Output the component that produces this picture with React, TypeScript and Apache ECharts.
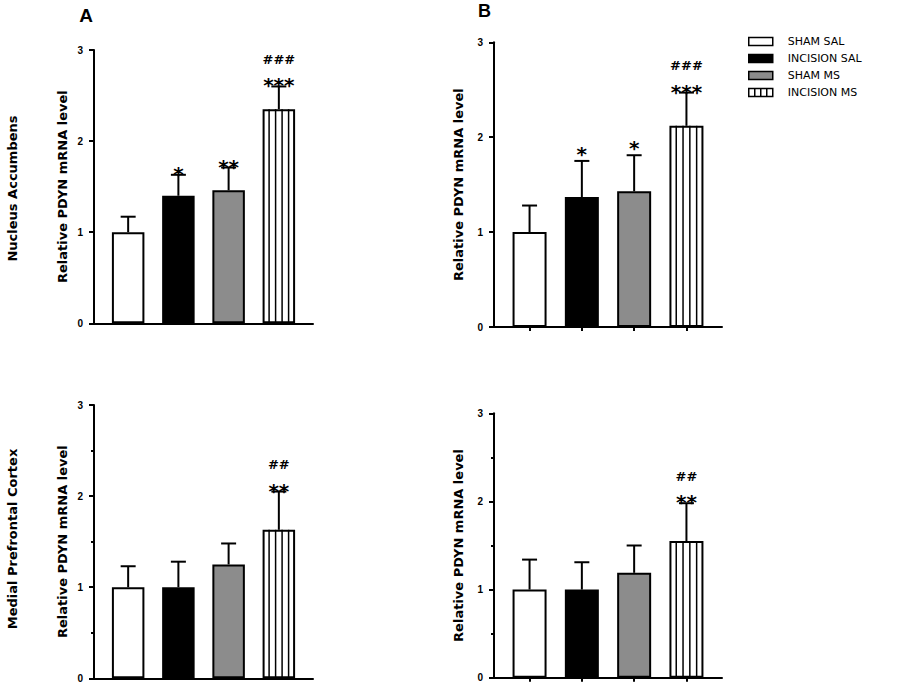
import React, { useEffect, useRef } from "react";
import * as echarts from "echarts";

// ---- data ----
const groups = ["SHAM SAL", "INCISION SAL", "SHAM MS", "INCISION MS"];
const yTicks = [0, 1, 2, 3];

const naMeanA = [1.0, 1.4, 1.46, 2.35];
const naSemA = [0.17, 0.23, 0.25, 0.25];
const naStarsA = ["", "*", "**", "***"];
const naHashA = ["", "", "", "###"];

const naMeanB = [1.0, 1.37, 1.43, 2.12];
const naSemB = [0.28, 0.38, 0.38, 0.35];
const naStarsB = ["", "*", "*", "***"];
const naHashB = ["", "", "", "###"];

const pfcMeanA = [1.0, 1.0, 1.25, 1.63];
const pfcSemA = [0.23, 0.28, 0.23, 0.42];
const pfcStarsA = ["", "", "", "**"];
const pfcHashA = ["", "", "", "##"];

const pfcMeanB = [1.0, 1.0, 1.19, 1.55];
const pfcSemB = [0.34, 0.31, 0.31, 0.43];
const pfcStarsB = ["", "", "", "**"];
const pfcHashB = ["", "", "", "##"];

const rowLabels = ["Nucleus Accumbens", "Medial Prefrontal Cortex"];
const panelLetters = ["A", "B"];
const yName = "Relative PDYN mRNA level";

// ---- styles / layout ----
const groupColors = ["#ffffff", "#000000", "#8c8c8c", "#ffffff"];
const stripedGroup = 3;

const panels = [
  { mean: naMeanA, sem: naSemA, stars: naStarsA, hashes: naHashA, left: 94, top: 50, width: 219, height: 273.3, barW: 32.5, nameGap: 25.5, xTicks: false, minor: false, singleLift: 0 },
  { mean: naMeanB, sem: naSemB, stars: naStarsB, hashes: naHashB, left: 494, top: 42.3, width: 228, height: 284.7, barW: 34, nameGap: 29, xTicks: true, minor: false, singleLift: 6 },
  { mean: pfcMeanA, sem: pfcSemA, stars: pfcStarsA, hashes: pfcHashA, left: 94, top: 405, width: 219, height: 273.3, barW: 32.5, nameGap: 25.5, xTicks: false, minor: true, singleLift: 0 },
  { mean: pfcMeanB, sem: pfcSemB, stars: pfcStarsB, hashes: pfcHashB, left: 494, top: 413.3, width: 228, height: 264.4, barW: 34, nameGap: 29, xTicks: true, minor: true, singleLift: 0 },
];

const WIDE = '"DejaVu Sans", "Liberation Sans", sans-serif';
const ARIAL = '"Liberation Sans", Arial, sans-serif';

function buildOption() {
  const grid: any[] = [];
  const xAxis: any[] = [];
  const yAxis: any[] = [];
  const series: any[] = [];

  panels.forEach((p, pi) => {
    grid.push({ left: p.left, top: p.top, width: p.width, height: p.height, containLabel: false });
    xAxis.push({
      type: "value",
      gridIndex: pi,
      min: 0.32,
      max: 4.68,
      splitLine: { show: false },
      axisLabel: { show: false },
      axisLine: { show: true, onZero: false, lineStyle: { color: "#000", width: 2 } },
      axisTick: p.xTicks
        ? { show: true, customValues: groups.map((_, i) => i + 1), length: 4, lineStyle: { color: "#000", width: 2 } }
        : { show: false },
    });
    yAxis.push({
      type: "value",
      gridIndex: pi,
      min: yTicks[0],
      max: yTicks[yTicks.length - 1],
      interval: 1,
      name: yName,
      nameLocation: "middle",
      nameRotate: 90,
      nameGap: p.nameGap,
      nameTextStyle: { fontFamily: WIDE, fontWeight: "bold", fontSize: 13, color: "#000" },
      splitLine: { show: false },
      axisLine: { show: true, lineStyle: { color: "#000", width: 2 } },
      axisTick: { show: true, length: 5, lineStyle: { color: "#000", width: 2 } },
      minorTick: p.minor ? { show: true, splitNumber: 2, length: 3, lineStyle: { color: "#000", width: 2 } } : { show: false },
      axisLabel: { fontFamily: ARIAL, fontWeight: "bold", fontSize: 10, color: "#000", margin: 11 },
    });

    groups.forEach((g, gi) => {
      series.push({
        type: "bar",
        name: g,
        xAxisIndex: pi,
        yAxisIndex: pi,
        barWidth: p.barW,
        barGap: "-100%",
        itemStyle: { color: groupColors[gi], borderColor: "#000", borderWidth: 2 },
        data: [[gi + 1, p.mean[gi]]],
        z: 2,
      });
    });

    series.push({
      type: "custom",
      xAxisIndex: pi,
      yAxisIndex: pi,
      z: 4,
      clip: false,
      silent: true,
      data: p.mean.map((m, i) => [i + 1, m, p.sem[i]]),
      renderItem: (params: any, api: any) => {
        const i = params.dataIndex;
        const x = api.value(0);
        const m = api.value(1);
        const s = api.value(2);
        const base = api.coord([x, m]);
        const top = api.coord([x, m + s]);
        const zero = api.coord([x, 0]);
        const ls = { stroke: "#000", lineWidth: 2 };
        const children: any[] = [];
        if (i === stripedGroup) {
          const w = p.barW;
          for (let k = 1; k <= 4; k++) {
            const lx = base[0] - w / 2 + (k * w) / 5;
            children.push({ type: "line", shape: { x1: lx, y1: base[1], x2: lx, y2: zero[1] }, style: { stroke: "#000", lineWidth: 1.5 } });
          }
        }
        children.push({ type: "line", shape: { x1: top[0], y1: base[1], x2: top[0], y2: top[1] }, style: ls });
        children.push({ type: "line", shape: { x1: top[0] - 7.5, y1: top[1], x2: top[0] + 7.5, y2: top[1] }, style: ls });
        const st = p.stars[i];
        if (st) {
          const lift = st.length === 1 ? p.singleLift : 0;
          children.push({
            type: "text",
            x: top[0],
            y: top[1] - 1 - lift,
            style: { text: st, align: "center", verticalAlign: "middle", font: `bold 20px ${WIDE}`, fill: "#000" },
          });
        }
        const hs = p.hashes[i];
        if (hs) {
          children.push({
            type: "text",
            x: top[0],
            y: top[1] - 27,
            style: { text: hs, align: "center", verticalAlign: "middle", font: `bold 13px ${WIDE}`, fill: "#000" },
          });
        }
        return { type: "group", children };
      },
    });
  });

  const graphic: any[] = [
    { type: "text", x: 12, y: 188.5, rotation: Math.PI / 2, style: { text: rowLabels[0], align: "center", verticalAlign: "middle", font: `bold 13px ${WIDE}`, fill: "#000" } },
    { type: "text", x: 12, y: 539, rotation: Math.PI / 2, style: { text: rowLabels[1], align: "center", verticalAlign: "middle", font: `bold 13px ${WIDE}`, fill: "#000" } },
    { type: "text", x: 86, y: 15, style: { text: panelLetters[0], align: "center", verticalAlign: "middle", font: `bold 19px ${ARIAL}`, fill: "#000" } },
    { type: "text", x: 484.5, y: 11, style: { text: panelLetters[1], align: "center", verticalAlign: "middle", font: `bold 18px ${ARIAL}`, fill: "#000" } },
  ];

  return {
    animation: false,
    backgroundColor: "#ffffff",
    grid,
    xAxis,
    yAxis,
    series,
    graphic,
    legend: {
      data: groups.map((g, i) =>
        i === stripedGroup ? { name: g, icon: "path://M0,0H24V8H0Z M6,0V8 M12,0V8 M18,0V8" } : { name: g }
      ),
      icon: "rect",
      orient: "vertical",
      left: 748,
      top: 34.5,
      padding: 0,
      itemWidth: 24,
      itemHeight: 8,
      itemGap: 3,
      selectedMode: false,
      itemStyle: { borderWidth: 1.5 },
      textStyle: { fontFamily: WIDE, fontSize: 11, color: "#000", lineHeight: 14, padding: [0, 0, 0, 10] },
    },
  };
}

export default function App() {
  const ref = useRef<HTMLDivElement>(null);
  useEffect(() => {
    if (!ref.current) return;
    const chart = echarts.init(ref.current, undefined, { renderer: "svg" });
    chart.setOption(buildOption() as any);
    return () => chart.dispose();
  }, []);
  return (
    <div
      ref={ref}
      style={{ position: "fixed", left: 0, top: 0, width: 909, height: 689, background: "#fff" }}
    />
  );
}
